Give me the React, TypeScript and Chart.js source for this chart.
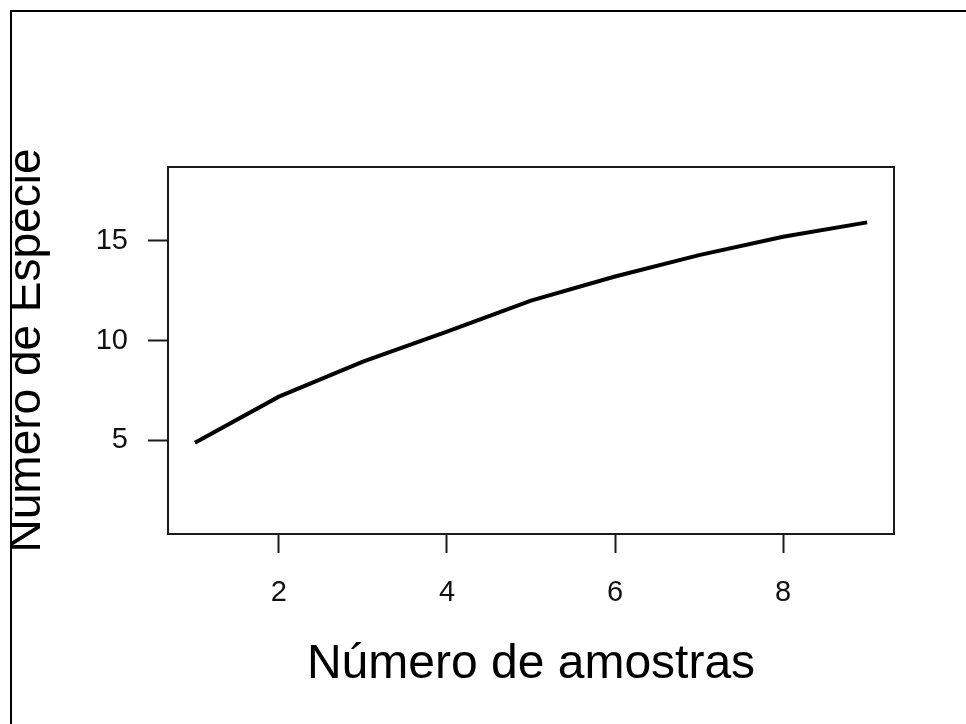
import React, { useEffect, useRef } from "react";
import { Chart, registerables } from "chart.js";

Chart.register(...registerables);

const sampleCounts = [1, 2, 3, 4, 5, 6, 7, 8, 9];
const speciesValues = [4.89, 7.19, 8.94, 10.44, 12.0, 13.2, 14.27, 15.19, 15.91];
const xTickValues = [2, 4, 6, 8];
const yTickValues = [5, 10, 15];
const xTitle = "Número de amostras";
const yTitle = "Número de Espécie";

const FONT = "'Liberation Sans', Arial, sans-serif";

const boxPlugin = {
  id: "boxPlugin",
  afterDatasetsDraw(chart: any) {
    const { ctx, chartArea } = chart;
    ctx.save();
    ctx.strokeStyle = "#1a1a1a";
    ctx.lineWidth = 2;
    ctx.strokeRect(
      chartArea.left,
      chartArea.top,
      chartArea.right - chartArea.left,
      chartArea.bottom - chartArea.top
    );
    ctx.restore();
  },
};

export default function App() {
  const canvasRef = useRef<HTMLCanvasElement | null>(null);

  useEffect(() => {
    if (!canvasRef.current) return;
    const chart = new Chart(canvasRef.current, {
      type: "line",
      data: {
        datasets: [
          {
            data: sampleCounts.map((x, i) => ({ x, y: speciesValues[i] })),
            borderColor: "#000",
            borderWidth: 4,
            pointRadius: 0,
            tension: 0,
            fill: false,
          },
        ],
      },
      plugins: [boxPlugin],
      options: {
        animation: false,
        responsive: false,
        devicePixelRatio: 1,
        layout: { padding: { left: 0, top: 167, right: 72, bottom: 0 } },
        plugins: { legend: { display: false }, tooltip: { enabled: false } },
        scales: {
          x: {
            type: "linear",
            position: "bottom",
            min: 0.68,
            max: 9.32,
            afterBuildTicks: (scale: any) => {
              scale.ticks = xTickValues.map((v) => ({ value: v }));
            },
            afterFit: (scale: any) => {
              scale.height = 190;
            },
            ticks: {
              color: "#111",
              font: { family: FONT, size: 29 },
              padding: 22.5,
              maxRotation: 0,
              autoSkip: false,
            },
            grid: {
              drawOnChartArea: false,
              drawTicks: true,
              tickLength: 19,
              tickWidth: 2,
              tickColor: "#1a1a1a",
              color: "#1a1a1a",
            },
            border: { display: false },
            title: {
              display: true,
              text: xTitle,
              color: "#000",
              font: { family: FONT, size: 48, lineHeight: 1 },
              padding: { top: 0, bottom: 35.6 },
            },
          },
          y: {
            type: "linear",
            position: "left",
            min: 0.32,
            max: 18.68,
            afterBuildTicks: (scale: any) => {
              scale.ticks = yTickValues.map((v) => ({ value: v }));
            },
            afterFit: (scale: any) => {
              scale.width = 168;
            },
            ticks: {
              color: "#111",
              font: { family: FONT, size: 29 },
              padding: 20,
              autoSkip: false,
            },
            grid: {
              drawOnChartArea: false,
              drawTicks: true,
              tickLength: 20,
              tickWidth: 2,
              tickColor: "#1a1a1a",
              color: "#1a1a1a",
            },
            border: { display: false },
            title: {
              display: true,
              text: yTitle,
              color: "#000",
              font: { family: FONT, size: 46, lineHeight: 1 },
              padding: { top: 4, bottom: 0 },
            },
          },
        },
      },
    } as any);
    return () => chart.destroy();
  }, []);

  return (
    <div
      style={{
        position: "absolute",
        left: 0,
        top: 0,
        width: 966,
        height: 724,
        overflow: "hidden",
        background: "#fff",
      }}
    >
      <div
        style={{
          position: "absolute",
          left: 10,
          top: 10,
          width: 980,
          height: 740,
          borderLeft: "2px solid #000",
          borderTop: "2px solid #000",
          overflow: "hidden",
        }}
      >
        <canvas
          ref={canvasRef}
          width={966}
          height={724}
          style={{ position: "absolute", left: -12, top: -12, width: 966, height: 724 }}
        />
      </div>
    </div>
  );
}
